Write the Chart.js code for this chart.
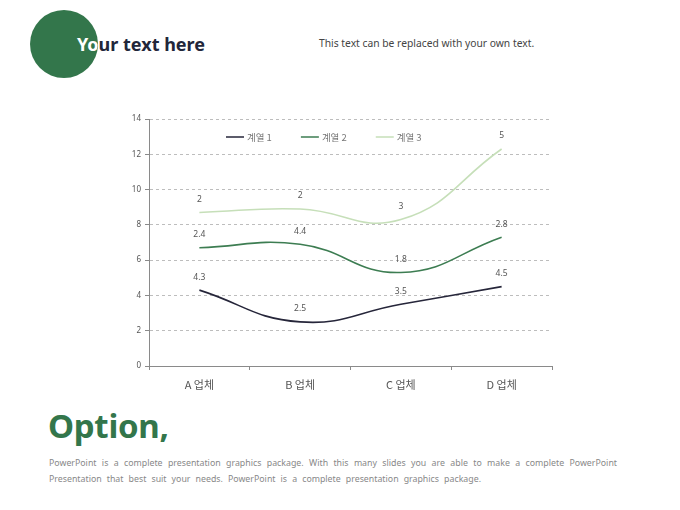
<!DOCTYPE html>
<html>
<head>
<meta charset="utf-8">
<script src="https://cdn.jsdelivr.net/npm/chart.js@4"></script>
<style>
  body { margin: 0; width: 680px; height: 510px; background: #fff; position: relative; overflow: hidden;
         font-family: "Noto Sans", "Noto Sans CJK KR", sans-serif; }
  .title { position: absolute; left: 77px; top: 32px; font-size: 18px; font-weight: bold; color: #22263a; white-space: nowrap; }
  .circle { position: absolute; left: 30px; top: 10px; width: 68px; height: 68px; border-radius: 50%; background: #33764b; overflow: hidden; }
  .circle .title { left: 47px; top: 22px; color: #fff; }
  .sub { position: absolute; left: 319px; top: 36px; font-size: 10.3px; color: #444; }
  .option { position: absolute; left: 48px; top: 403px; font-size: 33px; font-weight: bold; color: #33764b; letter-spacing: -0.3px; }
  .para { position: absolute; left: 49px; top: 455px; width: 568px; font-size: 8.8px; line-height: 16px; color: #888; word-spacing: 1.5px; }
  .para .l1 { text-align: justify; text-align-last: justify; }
  .para .l2 { word-spacing: 2.8px; }
  .wrap { position: absolute; left: 100px; top: 100px; width: 470px; height: 300px; }
</style>
</head>
<body>
<div class="title">Your text here</div>
<div class="circle"><div class="title">Your text here</div></div>
<div class="sub">This text can be replaced with your own text.</div>
<div class="wrap"><canvas id="lineChart"></canvas></div>
<div class="option">Option,</div>
<div class="para">
  <div class="l1">PowerPoint is a complete presentation graphics package. With this many slides you are able to make a complete PowerPoint</div>
  <div class="l2">Presentation that best suit your needs. PowerPoint is a complete presentation graphics package.</div>
</div>
<script>
const categories = ['A 업체', 'B 업체', 'C 업체', 'D 업체'];
const seriesNames = ['계열 1', '계열 2', '계열 3'];
const series1 = [4.3, 2.5, 3.5, 4.5];
const series2 = [2.4, 4.4, 1.8, 2.8];
const series3 = [2, 2, 3, 5];
const yTicks = [0, 2, 4, 6, 8, 10, 12, 14];
const colors = ['#26263a', '#3d7d52', '#c6dfb9'];

// value labels above each stacked point
const valueLabels = {
    id: 'valueLabels',
    afterDatasetsDraw(chart) {
        const ctx = chart.ctx;
        ctx.save();
        ctx.font = '8.5px "Noto Sans", sans-serif';
        ctx.fillStyle = '#555';
        ctx.textAlign = 'center';
        ctx.textBaseline = 'middle';
        chart.data.datasets.forEach((ds, i) => {
            chart.getDatasetMeta(i).data.forEach((pt, j) => {
                ctx.fillText(String(ds.data[j]), pt.x, pt.y - 13);
            });
        });
        ctx.restore();
    }
};

// legend drawn inside the plot area
const innerLegend = {
    id: 'innerLegend',
    afterDraw(chart) {
        const ctx = chart.ctx;
        const area = chart.chartArea;
        let x = area.left + 77;
        const y = area.top + 18;
        ctx.save();
        ctx.font = '9.5px "Noto Sans CJK KR", sans-serif';
        ctx.textBaseline = 'middle';
        chart.data.datasets.forEach((ds) => {
            ctx.strokeStyle = ds.borderColor;
            ctx.lineWidth = 1.5;
            ctx.beginPath();
            ctx.moveTo(x, y);
            ctx.lineTo(x + 18, y);
            ctx.stroke();
            ctx.fillStyle = '#777';
            ctx.fillText(ds.label, x + 21, y);
            x += 21 + ctx.measureText(ds.label).width + 29;
        });
        ctx.restore();
    }
};

new Chart(document.getElementById('lineChart').getContext('2d'), {
    type: 'line',
    data: {
        labels: categories,
        datasets: [series1, series2, series3].map((d, i) => ({
            label: seriesNames[i],
            data: d,
            borderColor: colors[i],
            backgroundColor: colors[i],
            borderWidth: 1.6,
            pointRadius: 0,
            tension: 0.45,
            fill: false
        }))
    },
    options: {
        responsive: true,
        maintainAspectRatio: false,
        animation: false,
        layout: { padding: { top: 19, right: 18, left: 0, bottom: 0 } },
        plugins: { legend: { display: false }, tooltip: { enabled: false } },
        scales: {
            x: {
                offset: true,
                grid: { offset: true, drawOnChartArea: false, drawTicks: true, tickLength: 4, color: '#8a8a8a' },
                border: { color: '#8a8a8a' },
                ticks: { color: '#555', padding: 8, font: { size: 11, family: '"Noto Sans CJK KR", sans-serif' } },
                afterFit(scale) { scale.height = 34; }
            },
            y: {
                stacked: true,
                min: 0,
                max: 14,
                afterBuildTicks(scale) { scale.ticks = yTicks.map(v => ({ value: v })); },
                grid: { color: '#bdbdbd', tickColor: '#8a8a8a', tickLength: 4, tickBorderDash: [] },
                border: { color: '#8a8a8a', dash: [3, 3] },
                ticks: { color: '#555', padding: 4, font: { size: 8, family: '"Noto Sans", sans-serif' } },
                afterFit(scale) { scale.width = 49; }
            }
        }
    },
    plugins: [valueLabels, innerLegend]
});
</script>
</body>
</html>
